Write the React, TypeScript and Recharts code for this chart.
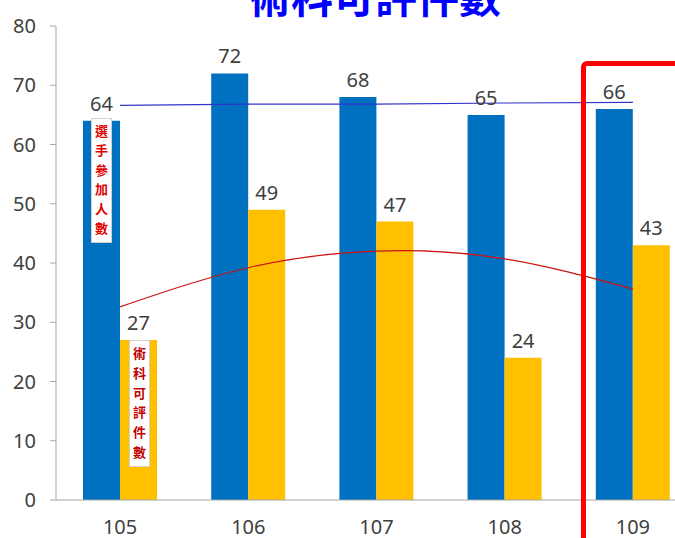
import React from 'react';
import { ComposedChart, Bar, Line, XAxis, YAxis, LabelList } from 'recharts';

const years = ['105', '106', '107', '108', '109'];
const participants = [64, 72, 68, 65, 66];
const gradable = [27, 49, 47, 24, 43];
const participantsTrend = [66.6, 66.8, 66.8, 67.0, 67.1];
const gradableTrend = [32.6, 39.2, 42.0, 40.7, 35.6];
const yTicks = [0, 10, 20, 30, 40, 50, 60, 70, 80];

const titleText = '術科可評件數';
const participantsLabel = '選手參加人數';
const gradableLabel = '術科可評件數';

const data = years.map((y, i) => ({
  year: y,
  participants: participants[i],
  gradable: gradable[i],
  pTrend: participantsTrend[i],
  gTrend: gradableTrend[i],
}));

const VerticalBox = ({ text, left, top, height, color }: { text: string; left: number; top: number; height: number; color: string }) => (
  <div
    style={{
      position: 'absolute',
      left,
      top,
      width: 21,
      height,
      background: '#fff',
      border: '1px solid #d0d0d0',
      boxSizing: 'border-box',
      display: 'flex',
      flexDirection: 'column',
      alignItems: 'center',
      justifyContent: 'space-around',
      paddingTop: 2,
      paddingBottom: 4,
      fontFamily: '"Noto Sans CJK TC", sans-serif',
      fontWeight: 700,
      fontSize: 13,
      color,
      lineHeight: '14px',
    }}
  >
    {text.split('').map((c, i) => (
      <span key={i}>{c}</span>
    ))}
  </div>
);

export default function App() {
  return (
    <div
      style={{
        position: 'fixed',
        left: 0,
        top: 0,
        width: 675,
        height: 538,
        overflow: 'hidden',
        background: '#fff',
        fontFamily: '"Noto Sans", sans-serif',
      }}
    >
      <ComposedChart
        width={700}
        height={538}
        data={data}
        margin={{ top: 26, right: 3, bottom: 8, left: 0 }}
        barGap={0}
      >
        <XAxis
          dataKey="year"
          tickLine={false}
          axisLine={{ stroke: '#a6a6a6' }}
          tick={{ fill: '#404040', fontSize: 20 }}
          tickMargin={14}
          height={30}
        />
        <YAxis
          domain={[0, 80]}
          ticks={yTicks}
          width={56}
          tickSize={6}
          tickMargin={14}
          axisLine={{ stroke: '#a6a6a6' }}
          tickLine={{ stroke: '#a6a6a6' }}
          tick={{ fill: '#404040', fontSize: 20 }}
          interval={0}
        />
        <Bar dataKey="participants" fill="#0070C0" barSize={37} isAnimationActive={false}>
          <LabelList dataKey="participants" position="top" offset={10} fill="#404040" fontSize={20} />
        </Bar>
        <Bar dataKey="gradable" fill="#FFC000" barSize={37} isAnimationActive={false}>
          <LabelList dataKey="gradable" position="top" offset={10} fill="#404040" fontSize={20} />
        </Bar>
        <Line dataKey="pTrend" type="linear" stroke="#3333CC" strokeWidth={1.2} dot={false} activeDot={false} isAnimationActive={false} />
        <Line dataKey="gTrend" type="natural" stroke="#CC1111" strokeWidth={1.2} dot={false} activeDot={false} isAnimationActive={false} />
      </ComposedChart>

      <div
        style={{
          position: 'absolute',
          left: 0,
          width: 750,
          top: -26,
          textAlign: 'center',
          fontFamily: '"Noto Sans CJK TC", sans-serif',
          fontWeight: 700,
          fontSize: 42,
          lineHeight: '42px',
          color: '#0000FF',
          whiteSpace: 'nowrap',
        }}
      >
        {titleText}
      </div>

      <VerticalBox text={participantsLabel} left={91} top={118} height={125} color="#E00000" />
      <VerticalBox text={gradableLabel} left={129} top={340} height={127} color="#C00000" />

      <div
        style={{
          position: 'absolute',
          left: 581,
          top: 61,
          width: 200,
          height: 600,
          border: '5px solid #FF0000',
          borderRadius: 6,
          boxSizing: 'border-box',
        }}
      />
    </div>
  );
}
